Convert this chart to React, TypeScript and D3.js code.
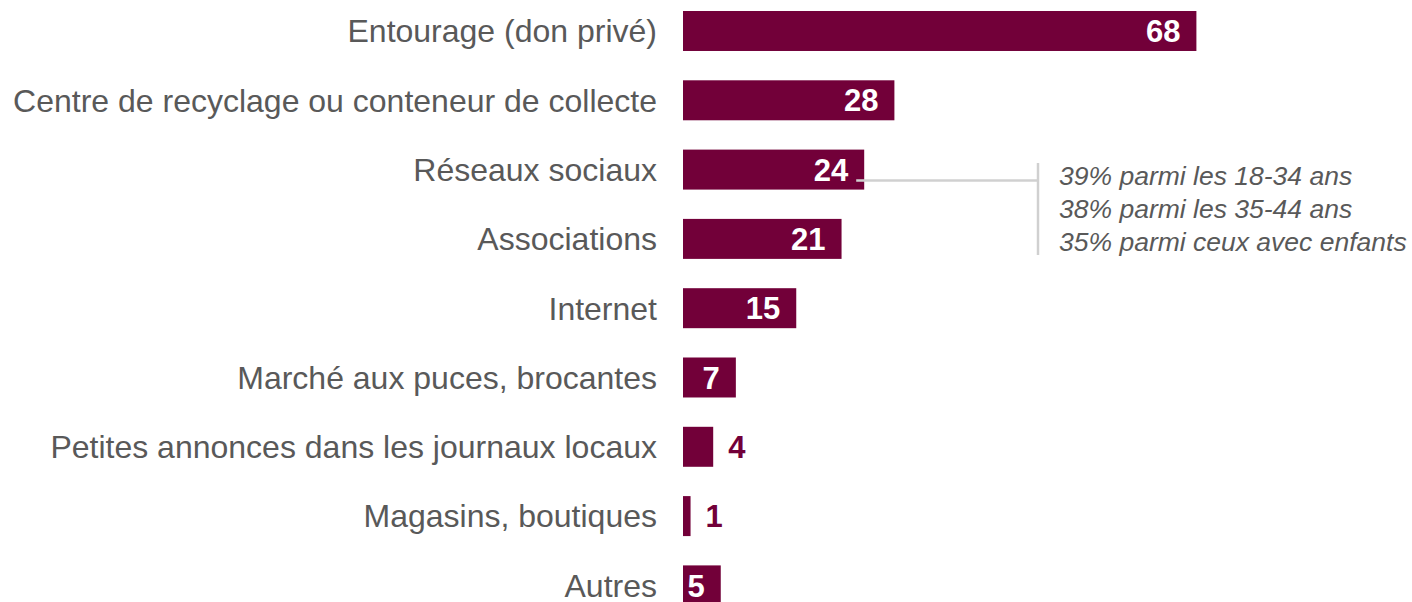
import React from "react";
import * as d3 from "d3";

const categories = [
  "Entourage (don privé)",
  "Centre de recyclage ou conteneur de collecte",
  "Réseaux sociaux",
  "Associations",
  "Internet",
  "Marché aux puces, brocantes",
  "Petites annonces dans les journaux locaux",
  "Magasins, boutiques",
  "Autres",
];
const values = [68, 28, 24, 21, 15, 7, 4, 1, 5];
const insideLabel = [true, true, true, true, true, true, false, false, true];
const annotationLines = [
  "39% parmi les 18-34 ans",
  "38% parmi les 35-44 ans",
  "35% parmi ceux avec enfants",
];
const annotatedCategory = "Réseaux sociaux";

const W = 1412;
const H = 602;
const BAR = "#720039";
const GRAY = "#595959";
const LINE = "#d0d0d0";
const FONT = "'Liberation Sans', Arial, sans-serif";

export default function App() {
  const step = 69.3;
  const p = 0.423;
  const top = 11 - (step * p) / 2;
  const y = d3
    .scaleBand<string>()
    .domain(categories)
    .range([top, top + step * categories.length])
    .paddingInner(p)
    .paddingOuter(p / 2);
  const x = d3.scaleLinear().domain([0, 100]).range([683, 683 + 755]);

  const ay = (y(annotatedCategory) as number) + y.bandwidth() / 2;
  const aIdx = categories.indexOf(annotatedCategory);
  const aEnd = x(values[aIdx]);

  return (
    <svg
      width={W}
      height={H}
      style={{ position: "absolute", left: 0, top: 0 }}
      fontFamily={FONT}
    >
      <rect x={0} y={0} width={W} height={H} fill="#fff" />
      {categories.map((c, i) => {
        const yy = y(c) as number;
        const cy = yy + y.bandwidth() / 2;
        const xe = x(values[i]);
        return (
          <g key={c}>
            <text
              x={657}
              y={cy}
              dy="0.355em"
              textAnchor="end"
              fontSize={32}
              fill={GRAY}
            >
              {c}
            </text>
            <rect x={x(0)} y={yy} width={xe - x(0)} height={y.bandwidth()} fill={BAR} />
            <text
              x={insideLabel[i] ? xe - 16 : xe + 15}
              y={cy}
              dy="0.36em"
              textAnchor={insideLabel[i] ? "end" : "start"}
              fontSize={31}
              fontWeight="bold"
              fill={insideLabel[i] ? "#fff" : BAR}
            >
              {values[i]}
            </text>
          </g>
        );
      })}
      <line x1={aEnd - 8} x2={1038} y1={ay + 11} y2={ay + 11} stroke={LINE} strokeWidth={2.5} />
      <line x1={1038} x2={1038} y1={163} y2={255} stroke={LINE} strokeWidth={2.5} />
      {annotationLines.map((t, i) => (
        <text
          key={t}
          x={1059}
          y={184.5 + i * 33}
          fontSize={26.5}
          fontStyle="italic"
          fill={GRAY}
        >
          {t}
        </text>
      ))}
    </svg>
  );
}
